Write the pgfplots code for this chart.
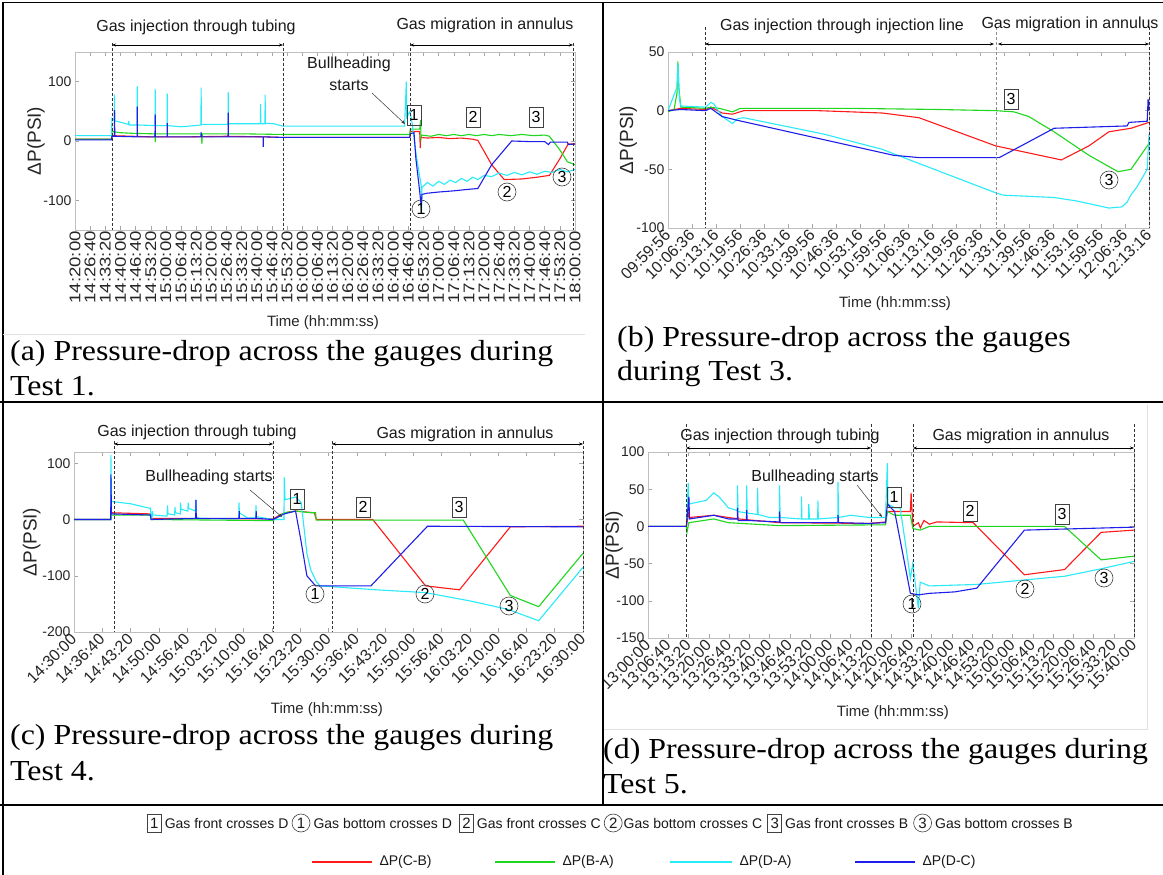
\documentclass[border=0pt]{standalone}
\usepackage{fontspec}
\setmainfont{Liberation Serif}
\newfontfamily\capfont[FakeStretch=1.1]{Liberation Serif}
\newfontfamily\chart{Liberation Sans}
\newfontfamily\chartx[FakeStretch=1.2]{Liberation Sans}
\usepackage{pgfplots}
\pgfplotsset{compat=1.18}
\usetikzlibrary{arrows.meta}
\definecolor{mred}{RGB}{255,25,25}
\definecolor{mgreen}{RGB}{30,215,30}
\definecolor{mcyan}{RGB}{40,235,250}
\definecolor{mblue}{RGB}{30,30,235}
\newcommand{\cf}[1]{\chart\fontsize{#1}{#1}\selectfont}
\pgfplotsset{
  mat/.style={
    scale only axis, anchor=north west,
    scaled x ticks=false, scaled y ticks=false,
    axis line style={draw=black!25},
    tick style={draw=black!35, line width=0.5pt},
    major tick length=4pt,
    tick align=inside,
    tick label style={font=\cf{14}, text=black!85},
    xticklabel style={font=\cf{16}},
    /pgf/number format/assume math mode=true,
    xlabel style={font=\cf{15}, text=black!85, anchor=center},
    ylabel style={font=\cf{19}, text=black!85, anchor=center},
    every axis plot/.append style={line width=1.1pt, no markers},
  },
}
\tikzset{
  bx/.style={draw=black!75, line width=0.6pt, minimum width=14pt, minimum height=20pt, inner sep=0pt, font=\cf{16}},
  ci/.style={circle, draw=black!75, line width=0.6pt, minimum size=18pt, inner sep=0pt, font=\cf{16}},
}
\begin{document}
\begin{tikzpicture}
\useasboundingbox (0pt,0pt) rectangle (1163pt,-875pt);
\fill[white] (0pt,0pt) rectangle (1163pt,-875pt);

% ---------------- (a) Test 1 ----------------
\begin{axis}[mat, at={(75pt,-52pt)}, width=500pt, height=178pt,
  xmin=0, xmax=13200, ymin=-150, ymax=150, ytick={-100,0,100},
  xtick={0,400,...,13200},
  xticklabels={14:20:00,14:26:40,14:33:20,14:40:00,14:46:40,14:53:20,15:00:00,15:06:40,15:13:20,15:20:00,15:26:40,15:33:20,15:40:00,15:46:40,15:53:20,16:00:00,16:06:40,16:13:20,16:20:00,16:26:40,16:33:20,16:40:00,16:46:40,16:53:20,17:00:00,17:06:40,17:13:20,17:20:00,17:26:40,17:33:20,17:40:00,17:46:40,17:53:20,18:00:00},
  xticklabel style={rotate=90, anchor=east, font=\chartx\fontsize{15.5}{15.5}\selectfont, inner sep=1pt},
  xlabel={Time (hh:mm:ss)}, ylabel={ΔP(PSI)},
  xlabel style={at={(axis description cs:0.496,-0.52)}},
  ylabel style={at={(axis description cs:-0.078,0.5)}},
]
\addplot[mred] coordinates {(0,3) (965,3) (975,9) (1500,8) (2000,7) (3000,7) (4000,8) (5000,7) (5487,6) (8840,6) (8850,16) (9100,16) (9115,-12) (9125,6) (9300,5) (9600,6) (9900,4) (10200,5) (10500,3) (10636,1) (11000,-40) (11331,-65) (11800,-64) (12200,-61) (12524,-58) (12800,-30) (13020,-5) (13200,-5)};
\addplot[mgreen] coordinates {(0,3) (965,3) (975,16) (1200,14) (1500,13) (2110,12) (2117,-2) (2122,12) (3340,12) (3350,-5) (3360,12) (4500,12) (5487,11) (8840,11) (8850,20) (9100,20) (9125,35) (9135,5) (9150,10) (9400,8) (9600,11) (9800,9) (10000,11) (10200,9) (10400,11) (10600,9) (10800,11) (11000,9) (11200,11) (11500,9) (11800,11) (12100,9) (12400,10) (12524,8) (12800,-15) (13000,-35) (13200,-40)};
\addplot[mcyan] coordinates {(0,9) (965,9) (975,38) (1040,35) (1044,78) (1050,34) (1300,30) (1415,28) (1421,34) (1427,27) (1638,27) (1643,92) (1648,27) (2112,26) (2117,88) (2122,26) (2430,26) (2435,80) (2440,26) (2800,24) (3000,25) (3325,27) (3330,90) (3336,28) (4040,28) (4045,82) (4050,29) (4895,29) (4900,62) (4905,29) (5015,29) (5020,78) (5025,30) (5250,29) (5487,25) (8700,25) (8747,100) (8755,40) (8800,45) (8845,50) (8900,30) (9000,-20) (9100,-60) (9140,-75) (9150,-120) (9160,-78) (9300,-70) (9450,-76) (9600,-68) (9750,-73) (9900,-66) (10050,-70) (10200,-63) (10350,-68) (10500,-61) (10636,-65) (10800,-58) (11000,-60) (11200,-54) (11400,-58) (11600,-53) (11800,-57) (12000,-52) (12200,-56) (12400,-51) (12600,-53) (12800,-48) (13000,-52) (13200,-48)};
\addplot[mblue] coordinates {(0,2) (965,2) (975,8) (1040,8) (1044,52) (1050,8) (1638,7) (1643,58) (1648,7) (2112,7) (2117,45) (2122,7) (2430,7) (2435,30) (2440,7) (3325,7) (3330,15) (3336,7) (4040,7) (4045,48) (4050,7) (4965,7) (4970,-10) (4975,7) (5487,6) (8840,6) (8850,12) (8950,14) (9000,-30) (9100,-85) (9140,-110) (9160,-90) (9300,-88) (9600,-86) (10000,-84) (10300,-82) (10636,-80) (11000,-40) (11530,0) (12000,-1) (12400,-1) (12500,-6) (12550,-2) (13000,-2) (13020,-6) (13200,-5)};
\end{axis}

% ---------------- (b) Test 3 ----------------
\begin{axis}[mat, at={(668pt,-52pt)}, width=481pt, height=176pt,
  xmin=0, xmax=8000, ymin=-100, ymax=50, ytick={-100,-50,0,50},
  xtick={0,400,...,8000},
  xticklabels={09:59:56,10:06:36,10:13:16,10:19:56,10:26:36,10:33:16,10:39:56,10:46:36,10:53:16,10:59:56,11:06:36,11:13:16,11:19:56,11:26:36,11:33:16,11:39:56,11:46:36,11:53:16,11:59:56,12:06:36,12:13:16},
  xticklabel style={rotate=45, anchor=east, yshift=-3pt},
  xlabel={Time (hh:mm:ss)}, ylabel={ΔP(PSI)},
  xlabel style={at={(axis description cs:0.472,-0.43)}},
  ylabel style={at={(axis description cs:-0.083,0.5)}},
]
\addplot[mred] coordinates {(0,0) (213,2) (626,1) (711,3) (900,-2) (1075,-3) (1258,0) (2500,0) (3566,-2) (4174,-6) (5449,-30) (6543,-42) (7000,-30) (7333,-18) (7700,-15) (8000,-10)};
\addplot[mgreen] coordinates {(0,-1) (100,1) (150,15) (164,42) (180,20) (213,3) (626,2) (711,3) (850,2) (1075,-1) (1200,2) (3000,2) (4500,1) (5449,0) (5753,-1) (6000,-5) (6421,-18) (7000,-38) (7484,-52) (7700,-50) (8000,-28)};
\addplot[mcyan] coordinates {(0,0) (150,20) (164,40) (190,10) (213,4) (626,3) (711,7) (760,6) (900,-5) (1075,-11) (1150,-7) (1258,-6) (2594,-20) (3566,-33) (4174,-45) (5449,-70) (5571,-72) (6421,-74) (6800,-77) (7333,-83) (7550,-82) (7636,-78) (7697,-72) (7800,-65) (7970,-50) (8000,-20)};
\addplot[mblue] coordinates {(0,0) (213,1) (626,0) (711,2) (900,-5) (1136,-8) (3748,-38) (4174,-40) (5510,-40) (6421,-15) (7636,-13) (7667,-10) (7970,-9) (7985,10) (8000,0)};
\end{axis}

% ---------------- (c) Test 4 ----------------
\begin{axis}[mat, at={(74pt,-452pt)}, width=509pt, height=180pt,
  xmin=0, xmax=7200, ymin=-200, ymax=120, ytick={-200,-100,0,100},
  xtick={0,400,...,7200},
  xticklabels={14:30:00,14:36:40,14:43:20,14:50:00,14:56:40,15:03:20,15:10:00,15:16:40,15:23:20,15:30:00,15:36:40,15:43:20,15:50:00,15:56:40,16:03:20,16:10:00,16:16:40,16:23:20,16:30:00},
  xticklabel style={rotate=45, anchor=east, yshift=-3pt},
  xlabel={Time (hh:mm:ss)}, ylabel={ΔP(PSI)},
  xlabel style={at={(axis description cs:0.497,-0.43)}},
  ylabel style={at={(axis description cs:-0.083,0.5)}},
]
\addplot[mred] coordinates {(0,0) (522,0) (530,12) (1082,10) (1090,2) (2814,1) (2974,12) (3134,15) (3400,12) (3427,0) (4226,0) (4973,-118) (5453,-125) (6172,-13) (7200,-12)};
\addplot[mgreen] coordinates {(0,0) (522,0) (530,8) (1082,8) (1090,0) (2814,-2) (2974,12) (3134,15) (3350,12) (3417,12) (3427,-1) (5506,-1) (6172,-135) (6572,-155) (7200,-60)};
\addplot[mcyan] coordinates {(0,0) (520,0) (522,115) (530,32) (800,28) (1000,22) (1082,20) (1090,2) (1105,2) (1109,15) (1115,8) (1318,6) (1322,25) (1330,10) (1424,8) (1428,22) (1435,12) (1504,10) (1508,30) (1515,18) (1611,15) (1615,30) (1620,20) (1718,15) (1722,35) (1730,5) (1775,2) (2148,1) (2330,1) (2334,30) (2340,12) (2450,3) (2570,3) (2574,25) (2580,5) (2814,0) (2970,0) (2974,75) (2985,35) (3134,40) (3214,30) (3294,-60) (3350,-90) (3427,-110) (3481,-118) (4280,-125) (4973,-130) (5612,-145) (6145,-160) (6572,-180) (7200,-85)};
\addplot[mblue] coordinates {(0,0) (520,0) (522,80) (530,10) (1082,8) (1090,0) (1722,2) (1725,35) (1730,2) (2334,2) (2337,15) (2340,2) (2574,2) (2577,15) (2580,2) (2814,0) (2974,10) (3134,15) (3214,-40) (3294,-100) (3417,-118) (4200,-118) (5000,-12) (7200,-13)};
\end{axis}

% ---------------- (d) Test 5 ----------------
\begin{axis}[mat, at={(648pt,-452pt)}, width=486pt, height=186pt,
  xmin=0, xmax=9600, ymin=-150, ymax=100, ytick={-150,-100,-50,0,50,100},
  xtick={0,400,...,9600},
  xticklabels={13:00:00,13:06:40,13:13:20,13:20:00,13:26:40,13:33:20,13:40:00,13:46:40,13:53:20,14:00:00,14:06:40,14:13:20,14:20:00,14:26:40,14:33:20,14:40:00,14:46:40,14:53:20,15:00:00,15:06:40,15:13:20,15:20:00,15:26:40,15:33:20,15:40:00},
  xticklabel style={rotate=45, anchor=east, yshift=-3pt},
  xlabel={Time (hh:mm:ss)}, ylabel={ΔP(PSI)},
  xlabel style={at={(axis description cs:0.504,-0.403)}},
  ylabel style={at={(axis description cs:-0.07,0.5)}},
]
\addplot[mred] coordinates {(0,0) (758,0) (808,20) (820,12) (1299,15) (1588,12) (1800,10) (2598,5) (4367,4) (4692,6) (4728,20) (5183,20) (5197,45) (5233,0) (5341,5) (5380,-2) (5450,8) (5558,3) (5702,6) (6424,5) (7435,-65) (8228,-58) (8950,-8) (9600,-5)};
\addplot[mgreen] coordinates {(0,0) (758,0) (770,-8) (808,5) (1299,10) (1588,5) (2598,1) (4367,2) (4692,2) (4728,20) (4872,15) (5183,15) (5233,-3) (5377,-5) (5558,0) (8228,0) (8950,-45) (9600,-40)};
\addplot[mcyan] coordinates {(0,0) (758,0) (794,58) (808,30) (938,32) (1150,35) (1299,45) (1400,40) (1588,25) (1732,22) (1764,21) (1768,55) (1780,20) (1945,18) (1949,55) (1960,18) (2161,16) (2165,52) (2175,16) (2400,12) (2594,12) (2598,55) (2610,12) (3028,10) (3032,40) (3040,10) (3172,10) (3176,30) (3190,10) (3352,10) (3356,35) (3365,10) (3749,12) (3753,60) (3765,12) (4000,15) (4367,12) (4692,12) (4728,85) (4740,30) (4872,25) (4980,25) (5100,-30) (5183,-70) (5230,-50) (5341,-110) (5377,-75) (5558,-80) (6496,-78) (7435,-72) (8228,-67) (8950,-57) (9600,-47)};
\addplot[mblue] coordinates {(0,0) (758,0) (808,40) (820,10) (1299,15) (1588,10) (1764,10) (1768,25) (1780,8) (1945,8) (1949,22) (1960,8) (2594,6) (2598,20) (2610,5) (3749,5) (3753,15) (3765,5) (4367,4) (4692,5) (4728,30) (4872,20) (5183,-90) (5341,-92) (5558,-90) (6063,-88) (6496,-83) (7435,-5) (9600,-1)};
\end{axis}

\begin{scope}[x=1pt,y=-1pt]
% table frame
\draw[line width=1.3pt] (3,2.5) -- (1163,2.5);
\draw[line width=1.3pt] (3,2) -- (3,875);
\draw[line width=1.3pt] (603,2) -- (603,805);
\draw[line width=1.3pt] (0,402) -- (1163,402);
\draw[line width=1.3pt] (0,805) -- (1163,805);
\draw[black!12] (3,334) -- (585,334);
\draw[black!12] (1147,405) -- (1147,729) -- (604,729);

% period markers
\begin{scope}[densely dashed, line width=0.5pt, black!80]
\draw (112,43) -- (112,230); \draw (283,43) -- (283,230); \draw (410,43) -- (410,230); \draw (573,43) -- (573,230);
\draw (705,27) -- (705,228); \draw[black!45] (996,27) -- (996,228); \draw (1149,27) -- (1149,228);
\draw (114,441) -- (114,632); \draw (273,441) -- (273,632); \draw (332,441) -- (332,632); \draw (583,441) -- (583,632);
\draw (686,424) -- (686,638); \draw (871,424) -- (871,638); \draw (913,424) -- (913,638); \draw (1134,424) -- (1134,638);
\end{scope}
\begin{scope}[line width=0.5pt, {Stealth[length=4pt,width=3pt]}-{Stealth[length=4pt,width=3pt]}]
\draw (112,45) -- (283,45); \draw (410,45) -- (573,45);
\draw (705,44) -- (994,44); \draw (998,44) -- (1149,44);
\draw (114,444) -- (273,444); \draw (332,444) -- (583,444);
\draw (686,448) -- (871,448); \draw (913,448) -- (1134,448);
\end{scope}
\begin{scope}[font=\cf{16}, text=black!90]
\node at (196,27) {Gas injection through tubing};
\node at (485,25) {Gas migration in annulus};
\node at (842,26) {Gas injection through injection line};
\node at (1070,24) {Gas migration in annulus};
\node at (197,432) {Gas injection through tubing};
\node at (465,434) {Gas migration in annulus};
\node at (780,436) {Gas injection through tubing};
\node at (1021,436) {Gas migration in annulus};
% bullheading
\node at (349,64) {Bullheading};
\node at (349,85) {starts};
\node at (209,477) {Bullheading starts};
\node at (815,477) {Bullheading starts};
\end{scope}
\begin{scope}[line width=0.5pt, black!80, -{Stealth[length=4pt,width=3pt]}]
\draw (372,93) -- (405,124);
\draw (250,490) -- (282,517);
\draw (857,485) -- (882,517);
\end{scope}
% event markers
\node[bx] at (414,115) {1}; \node[ci] at (421,209) {1};
\node[bx] at (473,117) {2}; \node[ci] at (507,192) {2};
\node[bx] at (536,117) {3}; \node[ci] at (562,177) {3};
\node[bx] at (1011,99) {3}; \node[ci] at (1109,180) {3};
\node[bx] at (297,499) {1}; \node[ci] at (315,594) {1};
\node[bx] at (363,507) {2}; \node[ci] at (425,594) {2};
\node[bx] at (459,507) {3}; \node[ci] at (509,606) {3};
\node[bx] at (894,497) {1}; \node[ci] at (912,604) {1};
\node[bx] at (970,511) {2}; \node[ci] at (1025,589) {2};
\node[bx] at (1062,514) {3}; \node[ci] at (1104,578) {3};

% captions
\begin{scope}[font=\capfont\fontsize{29}{35}\selectfont]
\node[anchor=west, inner sep=0pt] at (10,354) {(a) Pressure-drop across the gauges during};
\node[anchor=west, inner sep=0pt] at (10,386) {Test 1.};
\node[anchor=west, inner sep=0pt] at (617,340) {(b) Pressure-drop across the gauges};
\node[anchor=west, inner sep=0pt] at (617,374) {during Test 3.};
\node[anchor=west, inner sep=0pt] at (10,738) {(c) Pressure-drop across the gauges during};
\node[anchor=west, inner sep=0pt] at (10,771) {Test 4.};
\node[anchor=west, inner sep=0pt] at (603,752) {(d) Pressure-drop across the gauges during};
\node[anchor=west, inner sep=0pt] at (603,784) {Test 5.};
\end{scope}

% legend: event markers
\begin{scope}[font=\cf{14}, text=black!90]
\node[bx, minimum height=18pt, font=\cf{15}, anchor=west] (m1) at (147,823) {1};
\node[anchor=west, inner sep=3pt] (t1) at (m1.east) {Gas front crosses D};
\node[ci, font=\cf{15}, anchor=west] (m2) at (t1.east) {1};
\node[anchor=west, inner sep=3pt] (t2) at (m2.east) {Gas bottom crosses D};
\node[bx, minimum height=18pt, font=\cf{15}, anchor=west] (m3) at ([xshift=4pt]t2.east) {2};
\node[anchor=west, inner sep=3pt] (t3) at (m3.east) {Gas front crosses C};
\node[ci, font=\cf{15}, anchor=west] (m4) at (t3.east) {2};
\node[anchor=west, inner sep=1pt] (t4) at (m4.east) {Gas bottom crosses C};
\node[bx, minimum height=18pt, font=\cf{15}, anchor=west] (m5) at ([xshift=4pt]t4.east) {3};
\node[anchor=west, inner sep=3pt] (t5) at (m5.east) {Gas front crosses B};
\node[ci, font=\cf{15}, anchor=west] (m6) at ([xshift=2pt]t5.east) {3};
\node[anchor=west, inner sep=3pt] (t6) at (m6.east) {Gas bottom crosses B};
% legend: series
\draw[mred, line width=2.8pt] (312,862) -- (372,862); \node[anchor=west] at (376,862) {ΔP(C-B)};
\draw[mgreen, line width=2.8pt] (495,862) -- (555,862); \node[anchor=west] at (559,862) {ΔP(B-A)};
\draw[mcyan, line width=2.8pt] (670,862) -- (732,862); \node[anchor=west] at (736,862) {ΔP(D-A)};
\draw[mblue, line width=2.8pt] (855,862) -- (915,862); \node[anchor=west] at (919,862) {ΔP(D-C)};
\end{scope}
\end{scope}
\end{tikzpicture}
\end{document}
